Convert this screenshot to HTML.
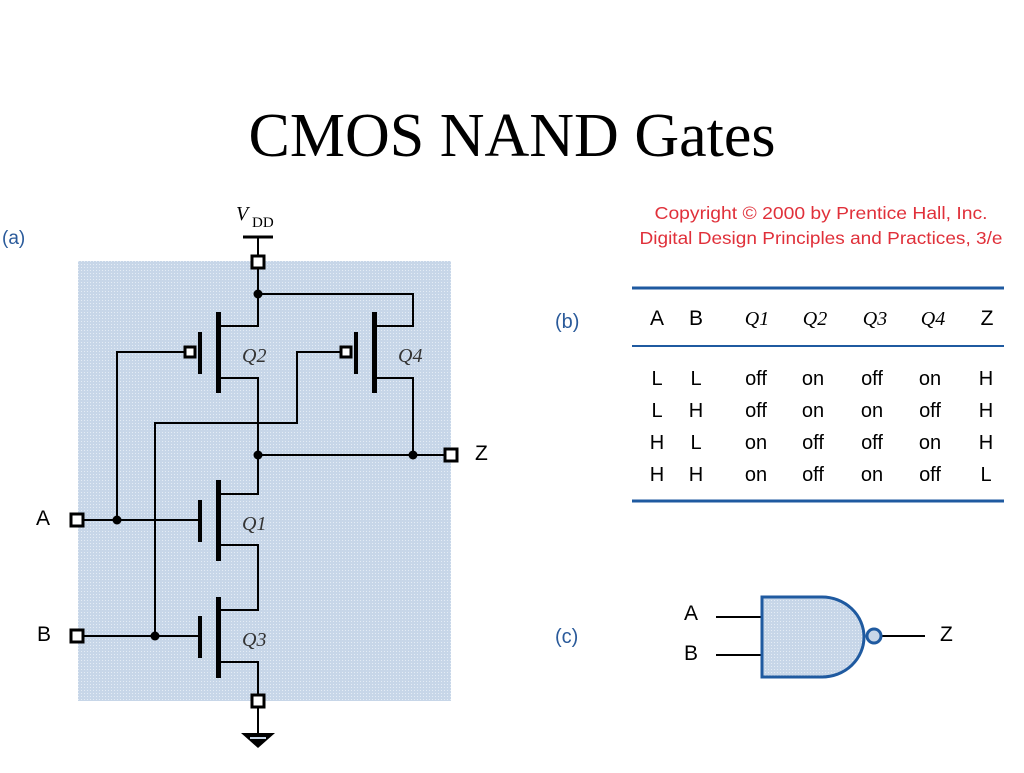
<!DOCTYPE html>
<html><head><meta charset="utf-8"><style>
body{margin:0;background:#fff;width:1024px;height:768px;overflow:hidden}
</style></head><body>
<svg width="1024" height="768" viewBox="0 0 1024 768" xmlns="http://www.w3.org/2000/svg">
<defs>
<pattern id="dots" width="3" height="3" patternUnits="userSpaceOnUse">
<rect width="3" height="3" fill="#c7d6e8"/><rect width="1" height="1" fill="#e4ecf5"/>
</pattern>
</defs>
<text x="512" y="156" font-family="Liberation Serif, serif" font-size="62" text-anchor="middle" fill="#000">CMOS NAND Gates</text>
<text x="2" y="244" font-family="Liberation Sans, sans-serif" font-size="19" fill="#2a5a9a">(a)</text>
<rect x="78" y="261" width="373" height="440" fill="url(#dots)"/>
<g font-family="Liberation Serif, serif" font-style="italic" font-size="20" fill="#000">
<text x="236" y="220">V</text></g>
<text x="252" y="227" font-family="Liberation Serif, serif" font-size="15">DD</text>
<g stroke="#000" stroke-width="2" fill="none">
<line x1="243" y1="237" x2="273" y2="237" stroke-width="3"/>
<line x1="258" y1="237" x2="258" y2="256"/>
<polyline points="258,268 258,326 220,326"/>
<polyline points="258,294 413,294 413,326 376,326"/>
<polyline points="220,378 258,378 258,494 220,494"/>
<polyline points="117,520 117,352 184,352"/>
<polyline points="376,378 413,378 413,455"/>
<polyline points="155,636 155,423 297,423 297,352 340,352"/>
<line x1="258" y1="455" x2="445" y2="455"/>
<polyline points="220,545 258,545 258,610 220,610"/>
<polyline points="220,662 258,662 258,695"/>
<line x1="84" y1="520" x2="200" y2="520"/>
<line x1="84" y1="636" x2="200" y2="636"/>
<line x1="258" y1="707" x2="258" y2="734"/>
</g>
<g fill="#000">
<rect x="216" y="312" width="5" height="81"/><rect x="198" y="332" width="4" height="42"/>
<rect x="372" y="312" width="5" height="81"/><rect x="354" y="332" width="4" height="42"/>
<rect x="216" y="480" width="5" height="81"/><rect x="198" y="500" width="4" height="42"/>
<rect x="216" y="597" width="5" height="81"/><rect x="198" y="616" width="4" height="42"/>
<circle cx="258" cy="294" r="4.5"/><circle cx="258" cy="455" r="4.5"/><circle cx="413" cy="455" r="4.5"/>
<circle cx="117" cy="520" r="4.5"/><circle cx="155" cy="636" r="4.5"/>
<polygon points="241,733 275,733 258,748"/>
</g>
<rect x="250" y="737" width="16" height="2" fill="#c7d6e8"/>
<g fill="#fff" stroke="#000" stroke-width="3">
<rect x="252" y="256" width="12" height="12"/>
<rect x="252" y="695" width="12" height="12"/>
<rect x="71" y="514" width="12" height="12"/>
<rect x="71" y="630" width="12" height="12"/>
<rect x="445" y="449" width="12" height="12"/>
<rect x="185" y="347" width="10" height="10"/>
<rect x="341" y="347" width="10" height="10"/>
</g>
<g font-family="Liberation Serif, serif" font-style="italic" font-size="20" fill="#333">
<text x="242" y="362">Q2</text><text x="398" y="362">Q4</text>
<text x="242" y="530">Q1</text><text x="242" y="646">Q3</text>
</g>
<g font-family="Liberation Sans, sans-serif" font-size="21" fill="#000">
<text x="36" y="525">A</text><text x="37" y="641">B</text><text x="475" y="460">Z</text>
</g>
<g font-family="Liberation Sans, sans-serif" font-size="17.5" fill="#e0303a" text-anchor="middle">
<text x="821" y="219" textLength="333" lengthAdjust="spacingAndGlyphs">Copyright © 2000 by Prentice Hall, Inc.</text>
<text x="821" y="244" textLength="363" lengthAdjust="spacingAndGlyphs">Digital Design Principles and Practices, 3/e</text>
</g>
<g stroke="#1f5aa0">
<line x1="632" y1="288" x2="1004" y2="288" stroke-width="3"/>
<line x1="632" y1="346" x2="1004" y2="346" stroke-width="2"/>
<line x1="632" y1="501" x2="1004" y2="501" stroke-width="3"/>
</g>
<text x="555" y="328" font-family="Liberation Sans, sans-serif" font-size="20" fill="#2a5a9a">(b)</text>
<g font-family="Liberation Sans, sans-serif" font-size="21" fill="#000" text-anchor="middle">
<text x="657" y="325">A</text><text x="696" y="325">B</text><text x="987" y="325">Z</text>
</g>
<g font-family="Liberation Serif, serif" font-style="italic" font-size="20" fill="#000" text-anchor="middle">
<text x="757" y="325">Q1</text><text x="815" y="325">Q2</text><text x="875" y="325">Q3</text><text x="933" y="325">Q4</text>
</g>
<g font-family="Liberation Sans, sans-serif" font-size="20" fill="#000" text-anchor="middle">
<text x="657" y="385">L</text><text x="696" y="385">L</text><text x="756" y="385">off</text><text x="813" y="385">on</text><text x="872" y="385">off</text><text x="930" y="385">on</text><text x="986" y="385">H</text>
<text x="657" y="417">L</text><text x="696" y="417">H</text><text x="756" y="417">off</text><text x="813" y="417">on</text><text x="872" y="417">on</text><text x="930" y="417">off</text><text x="986" y="417">H</text>
<text x="657" y="449">H</text><text x="696" y="449">L</text><text x="756" y="449">on</text><text x="813" y="449">off</text><text x="872" y="449">off</text><text x="930" y="449">on</text><text x="986" y="449">H</text>
<text x="657" y="481">H</text><text x="696" y="481">H</text><text x="756" y="481">on</text><text x="813" y="481">off</text><text x="872" y="481">on</text><text x="930" y="481">off</text><text x="986" y="481">L</text>
</g>
<text x="555" y="643" font-family="Liberation Sans, sans-serif" font-size="20" fill="#2a5a9a">(c)</text>
<g stroke="#000" stroke-width="2">
<line x1="716" y1="617" x2="762" y2="617"/><line x1="716" y1="655" x2="762" y2="655"/>
<line x1="882" y1="636" x2="925" y2="636"/>
</g>
<path d="M762,597 L822,597 A42,40 0 0 1 822,677 L762,677 Z" fill="url(#dots)" stroke="#1f5aa0" stroke-width="3"/>
<circle cx="874" cy="636" r="7" fill="#c7d6e8" stroke="#1f5aa0" stroke-width="3"/>
<g font-family="Liberation Sans, sans-serif" font-size="21" fill="#000">
<text x="684" y="620">A</text><text x="684" y="660">B</text><text x="940" y="641">Z</text>
</g>
</svg>
</body></html>
